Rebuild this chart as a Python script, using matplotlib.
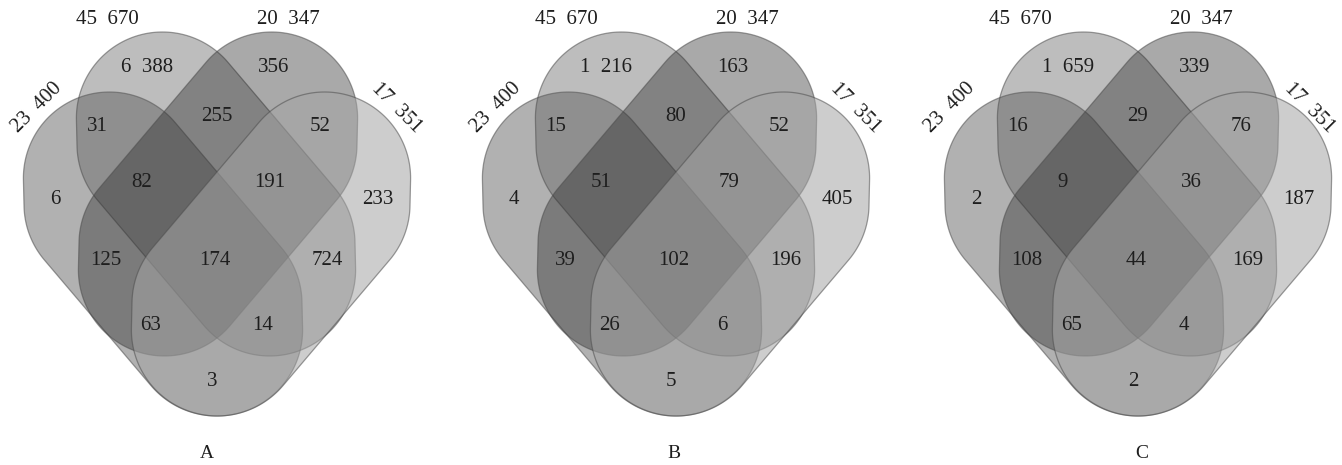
import numpy as np
import matplotlib
matplotlib.use("Agg")
import matplotlib.pyplot as plt
from matplotlib.patches import Polygon

# ---------------- data ----------------
set_sizes = [23400, 45670, 20347, 17351]
region_keys = ["1", "2", "3", "4", "12", "23", "34", "14", "13", "24",
               "123", "234", "134", "124", "1234"]
counts_A = [6, 6388, 356, 233, 31, 255, 52, 3, 125, 724, 82, 191, 63, 14, 174]
counts_B = [4, 1216, 163, 405, 15, 80, 52, 5, 39, 196, 51, 79, 26, 6, 102]
counts_C = [2, 1659, 339, 187, 16, 29, 76, 2, 108, 169, 9, 36, 65, 4, 44]
panel_labels = ["A", "B", "C"]
panel_counts = [counts_A, counts_B, counts_C]

# ---------------- layout ----------------
W, H = 1342, 465
panel_cx = [217, 676, 1138]
set_label_shift = [0, 0, -8]
letter_dx = [-10, -2, 4]

# rounded-parallelogram template (pixels): half long side, half short side, corner radius
E1 = np.array([53.3, 62.8])
E2 = np.array([0.3, 13.2])
RHO = 86
# centres (dx from panel centre, y) for the two left-leaning sets; the others are mirrors
centres_left = {0: (-54, 254), 1: (-1, 194)}
fills = [(62, 0.40), (92, 0.40), (42, 0.40), (164, 0.55)]

region_pos = {
    "1": (-162, 199), "2": (-70, 68), "3": (57, 68), "4": (161, 199),
    "12": (-120, 126), "23": (0, 116), "34": (103, 126), "14": (-5, 381),
    "13": (-111, 260), "24": (110, 260), "123": (-75, 182), "234": (53, 182),
    "134": (-66, 325), "124": (46, 325), "1234": (-2, 260),
}
set_label_pos = [(-180, 108, 45), (-110, 19, 0), (71, 19, 0), (179, 108, -45)]

plt.rcParams['font.family'] = ['Liberation Serif', 'DejaVu Serif']


def fmt(n, sep="  "):
    return f"{n:,}".replace(",", sep)


def hull(points):
    pts = sorted(map(tuple, points))
    def cross(o, a, b):
        return (a[0] - o[0]) * (b[1] - o[1]) - (a[1] - o[1]) * (b[0] - o[0])
    lower, upper = [], []
    for p in pts:
        while len(lower) >= 2 and cross(lower[-2], lower[-1], p) <= 0:
            lower.pop()
        lower.append(p)
    for p in reversed(pts):
        while len(upper) >= 2 and cross(upper[-2], upper[-1], p) <= 0:
            upper.pop()
        upper.append(p)
    return np.array(lower[:-1] + upper[:-1])


def rounded_para(c, e1, e2, rho, n=240):
    c = np.asarray(c, float)
    ang = np.linspace(0, 2 * np.pi, n, endpoint=False)
    circ = np.c_[rho * np.cos(ang), rho * np.sin(ang)]
    corners = [c + s1 * e1 + s2 * e2 for s1 in (-1, 1) for s2 in (-1, 1)]
    pts = np.vstack([q + circ for q in corners])
    return hull(pts)


fig = plt.figure(figsize=(W / 100, H / 100), dpi=100)
ax = fig.add_axes([0, 0, 1, 1])
ax.set_xlim(0, W)
ax.set_ylim(H, 0)
ax.axis("off")

mirror = np.array([-1.0, 1.0])
for p, cx in enumerate(panel_cx):
    for i in range(4):
        if i in centres_left:
            dx, y = centres_left[i]
            c = (cx + dx, y)
            e1, e2 = E1, E2
        else:
            dx, y = centres_left[3 - i]
            c = (cx - dx, y)
            e1, e2 = E1 * mirror, E2 * mirror
        g, al = fills[i]
        pts = rounded_para(c, e1, e2, RHO)
        ax.add_patch(Polygon(pts, closed=True,
                             facecolor=(g / 255, g / 255, g / 255, al),
                             edgecolor=(0.3, 0.3, 0.3, 0.55), lw=0.9))
    for key, val in zip(region_keys, panel_counts[p]):
        dx, y = region_pos[key]
        ax.text(cx + dx, y, fmt(val), ha="center", va="center",
                fontsize=15, color="#1e1e1e")
    for i, (dx, y, rot) in enumerate(set_label_pos):
        ax.text(cx + dx + set_label_shift[p], y, fmt(set_sizes[i]),
                ha="center", va="center", rotation=rot, rotation_mode="anchor",
                fontsize=15, color="#1e1e1e")
    ax.text(cx + letter_dx[p], 453, panel_labels[p], ha="center", va="center",
            fontsize=14, color="#1e1e1e")

fig.savefig("out.png", dpi=100)
